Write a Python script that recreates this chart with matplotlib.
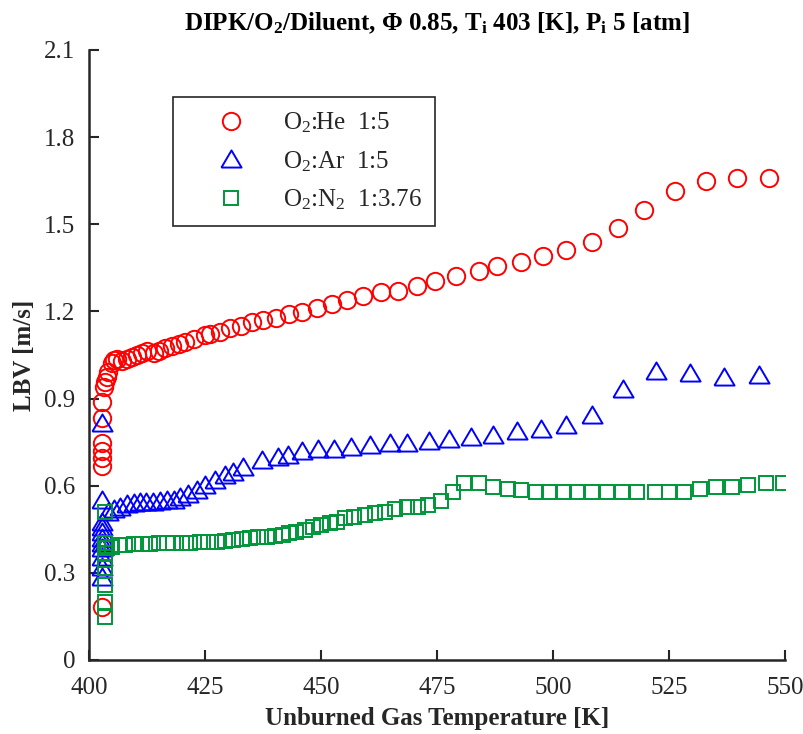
import numpy as np
import matplotlib.pyplot as plt

# O2:He 1:5
he_T = [402.9, 402.9, 402.9, 402.9, 402.9, 402.9, 402.9, 403.2, 403.4, 403.9,
        404.2, 404.9, 405.4, 406.0, 407.1, 408.2, 409.2, 410.3, 411.4, 412.5,
        414.0, 415.0, 416.3, 417.8, 419.3, 420.6, 422.6, 424.9, 426.0, 428.2,
        430.3, 432.7, 435.2, 437.6, 440.2, 443.2, 445.8, 449.2, 452.4, 455.7,
        459.1, 463.0, 466.6, 470.7, 474.6, 479.1, 484.0, 487.9, 493.1, 497.8,
        502.9, 508.5, 514.1, 519.7, 526.2, 533.0, 539.7, 546.6]
he_S = [0.183, 0.668, 0.695, 0.719, 0.747, 0.833, 0.888, 0.940, 0.957, 0.974,
        0.991, 1.022, 1.033, 1.036, 1.029, 1.036, 1.043, 1.050, 1.057, 1.064,
        1.057, 1.064, 1.074, 1.081, 1.088, 1.095, 1.105, 1.119, 1.122, 1.129,
        1.143, 1.150, 1.164, 1.170, 1.177, 1.191, 1.198, 1.212, 1.225, 1.239,
        1.253, 1.267, 1.270, 1.287, 1.305, 1.322, 1.339, 1.356, 1.370, 1.391,
        1.411, 1.439, 1.487, 1.549, 1.615, 1.649, 1.659, 1.659]

# O2:Ar 1:5
ar_T = [402.8, 402.8, 402.8, 402.8, 402.8, 402.8, 402.8, 402.8, 402.8, 402.8,
        402.8, 404.2, 405.3, 406.7, 408.2, 409.6, 411.0, 412.3, 413.9, 415.3,
        416.8, 418.3, 419.6, 421.4, 423.2, 425.0, 427.1, 429.3, 431.1, 433.2,
        437.2, 440.8, 442.9, 445.9, 449.4, 452.7, 456.5, 460.5, 464.8, 468.6,
        473.2, 477.6, 482.3, 487.1, 492.2, 497.4, 502.9, 508.5, 515.0, 522.2,
        529.5, 536.8, 544.5]
ar_S = [0.815, 0.551, 0.475, 0.458, 0.440, 0.420, 0.403, 0.385, 0.355, 0.320,
        0.287, 0.511, 0.519, 0.528, 0.537, 0.539, 0.545, 0.545, 0.545, 0.548,
        0.551, 0.551, 0.562, 0.571, 0.585, 0.602, 0.620, 0.637, 0.648, 0.665,
        0.688, 0.700, 0.706, 0.719, 0.725, 0.726, 0.734, 0.740, 0.748, 0.746,
        0.754, 0.760, 0.767, 0.774, 0.788, 0.794, 0.809, 0.843, 0.932, 0.995,
        0.987, 0.973, 0.981]

# O2:N2 1:3.76
n2_T = [403.5, 403.5, 403.5, 403.5, 403.5, 403.5, 403.5, 403.5, 403.9, 404.9,
        406.4, 407.8, 409.6, 411.4, 413.2, 415.0, 416.8, 418.2, 420.0, 421.8,
        423.9, 425.7, 427.5, 429.3, 431.1, 432.9, 434.7, 436.5, 438.3, 440.0,
        441.8, 443.0, 444.7, 446.5, 448.3, 450.1, 451.9, 453.5, 455.2, 457.2,
        459.4, 461.7, 463.8, 466.0, 468.6, 470.8, 473.0, 475.9, 478.4, 480.9,
        484.1, 487.0, 490.2, 493.1, 496.3, 499.1, 502.4, 505.2, 508.5, 511.7,
        514.9, 518.1, 521.9, 524.9, 528.2, 531.6, 535.2, 538.5, 542.0, 545.8,
        549.6]
n2_S = [0.510, 0.402, 0.367, 0.344, 0.316, 0.258, 0.201, 0.149, 0.385, 0.390,
        0.396, 0.396, 0.399, 0.399, 0.399, 0.402, 0.402, 0.404, 0.404, 0.404,
        0.407, 0.407, 0.407, 0.411, 0.413, 0.415, 0.419, 0.422, 0.424, 0.427,
        0.430, 0.436, 0.442, 0.448, 0.459, 0.465, 0.471, 0.476, 0.488, 0.493,
        0.499, 0.505, 0.510, 0.519, 0.526, 0.526, 0.534, 0.548, 0.579, 0.608,
        0.610, 0.594, 0.588, 0.585, 0.579, 0.579, 0.579, 0.579, 0.579, 0.579,
        0.579, 0.579, 0.579, 0.579, 0.579, 0.588, 0.594, 0.594, 0.602, 0.610,
        0.608]

x_ticks = [400, 425, 450, 475, 500, 525, 550]
y_ticks = [0, 0.3, 0.6, 0.9, 1.2, 1.5, 1.8, 2.1]
y_tick_labels = ['0', '0.3', '0.6', '0.9', '1.2', '1.5', '1.8', '2.1']

plt.rcParams['font.family'] = ['Liberation Serif', 'DejaVu Serif']
plt.rcParams['mathtext.fontset'] = 'custom'
plt.rcParams['mathtext.rm'] = 'Liberation Serif'
plt.rcParams['mathtext.it'] = 'Liberation Serif:italic'
plt.rcParams['mathtext.bf'] = 'Liberation Serif:bold'

# slightly wide triangle, like the MATLAB one
tri = [(-1.0, -0.8), (1.0, -0.8), (0.0, 0.9), (-1.0, -0.8)]

fig = plt.figure(figsize=(8.04, 7.34), dpi=100)
ax = fig.add_axes([89 / 804, 1 - 660 / 734, 696 / 804, 610 / 734])

ax.plot(he_T, he_S, ls='none', marker='o', ms=12.5, mfc='none', mec='#FF0000',
        mew=1.4, label=r'O$_\mathrm{2}$:He  1:5')
ax.plot(ar_T, ar_S, ls='none', marker=tri, ms=14.5, mfc='none', mec='#0000FF',
        mew=1.4, label=r'O$_\mathrm{2}$:Ar  1:5')
ax.plot(n2_T, n2_S, ls='none', marker='s', ms=10.5, mfc='none', mec='#009639',
        mew=1.4, label=r'O$_\mathrm{2}$:N$_\mathrm{2}$  1:3.76')

ax.set_xlim(400, 550)
ax.set_ylim(0, 2.1)
ax.set_xticks(x_ticks)
ax.set_yticks(y_ticks)
ax.set_yticklabels(y_tick_labels)
ax.tick_params(direction='in', length=7, width=1.5, labelsize=18, colors='#262626',
               labelcolor='#262626')
ax.tick_params(axis='x', pad=12)
ax.tick_params(axis='y', pad=10)
for side in ['top', 'right']:
    ax.spines[side].set_visible(False)
for side in ['left', 'bottom']:
    ax.spines[side].set_linewidth(1.8)
    ax.spines[side].set_color('#262626')

ax.set_xlabel('Unburned Gas Temperature [K]', fontsize=18, fontweight='bold',
              labelpad=6, color='#262626')
ax.set_ylabel('LBV [m/s]', fontsize=18, fontweight='bold', labelpad=6,
              color='#262626')
ax.set_title(r'DIPK/O$_\mathbf{2}$/Diluent, Φ 0.85, T$_\mathbf{i}$ 403 [K], '
             r'P$_\mathbf{i}$ 5 [atm]', fontsize=18, fontweight='bold', pad=14)

leg = ax.legend(loc='upper left', bbox_to_anchor=(0.12, 0.923), fontsize=18,
                fancybox=False, edgecolor='#262626', framealpha=1,
                borderpad=0.55, labelspacing=0.55, handletextpad=0.25,
                borderaxespad=0, handlelength=3.6)
leg.get_frame().set_linewidth(1.2)
for t in leg.get_texts():
    t.set_color('#262626')

fig.savefig('out.png', dpi=100)
